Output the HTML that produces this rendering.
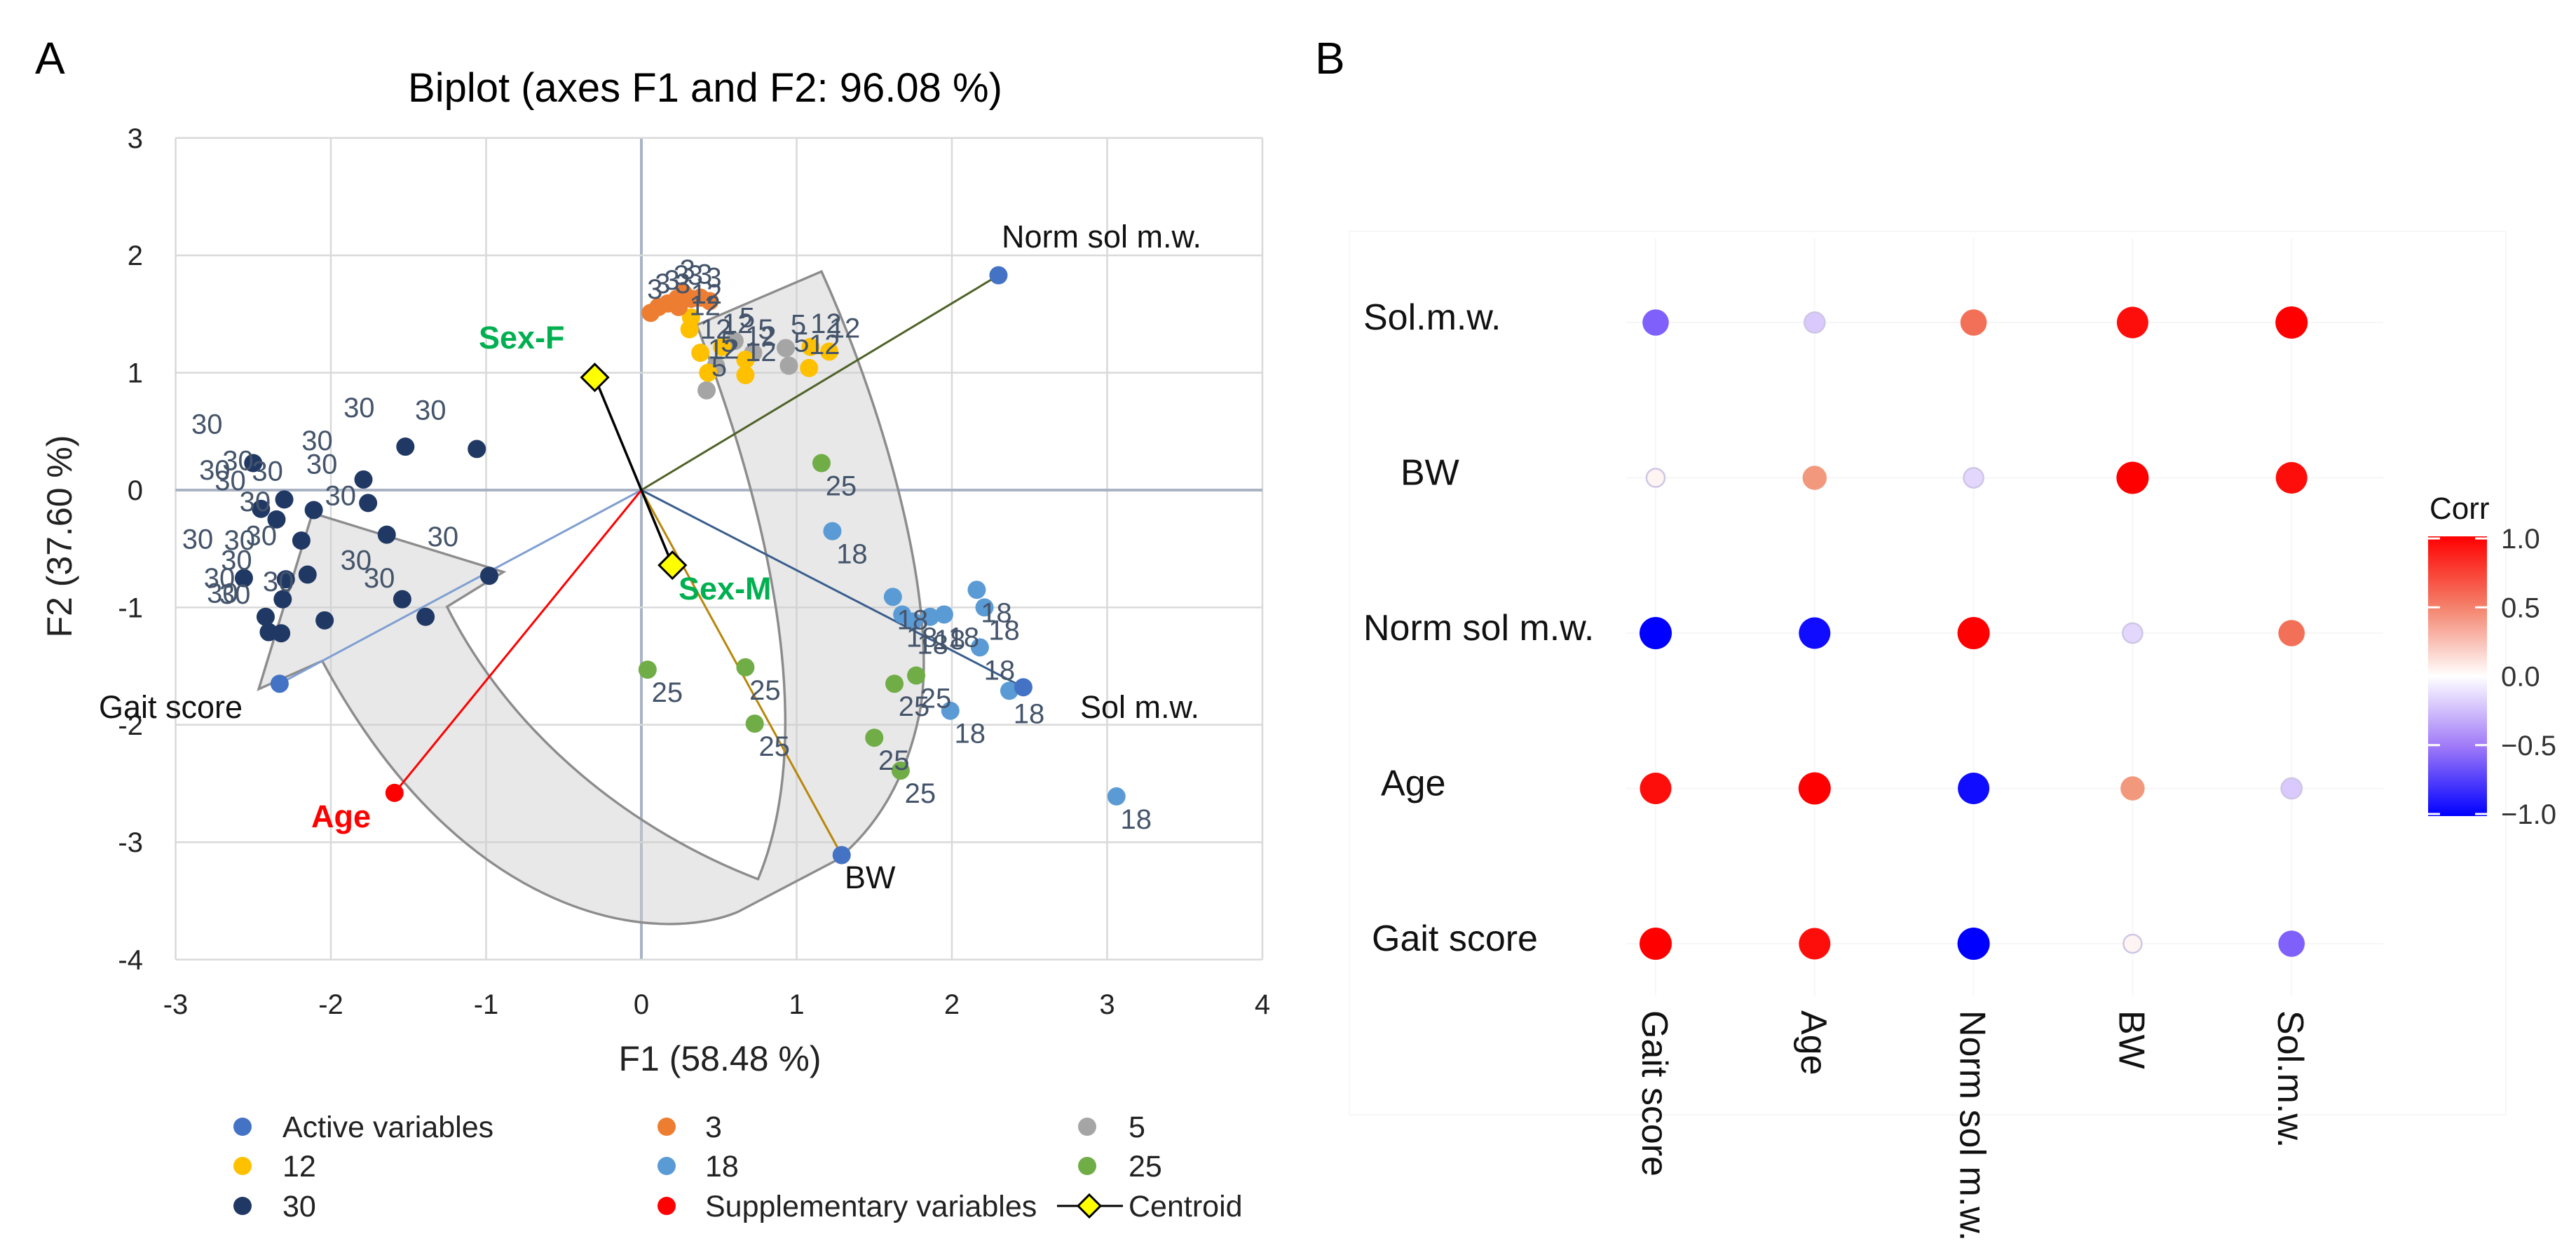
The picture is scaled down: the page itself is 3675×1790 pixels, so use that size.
<!DOCTYPE html>
<html><head><meta charset="utf-8">
<style>
html,body{margin:0;padding:0;background:#fff;}
svg{display:block;font-family:"Liberation Sans",sans-serif;}
</style></head>
<body>
<svg id="fig" width="3675" height="1790" viewBox="0 0 3675 1790" xmlns="http://www.w3.org/2000/svg">
<text x="50" y="105" font-size="64" fill="#000">A</text>
<text x="1876" y="105" font-size="64" fill="#000">B</text>
<text x="1006" y="145" font-size="58" text-anchor="middle" fill="#000">Biplot (axes F1 and F2: 96.08 %)</text>
<g id="biplot"></g>
<g id="corr"></g>
</svg>
<script>
// ---------- Biplot data ----------
const xTicks = [-3,-2,-1,0,1,2,3,4];
const yTicks = [-4,-3,-2,-1,0,1,2,3];
const g30x = [-2.50,-1.52,-1.06,-1.79,-1.76,-2.30,-2.45,-2.35,-2.11,-1.64,-2.19,-2.15,-2.56,-2.29,-2.31,-1.54,-2.04,-2.42,-2.40,-2.32,-1.39,-0.98];
const g30y = [0.23,0.37,0.35,0.09,-0.11,-0.08,-0.16,-0.25,-0.17,-0.38,-0.43,-0.72,-0.75,-0.76,-0.93,-0.93,-1.11,-1.08,-1.21,-1.22,-1.08,-0.73];
const g18x = [1.23,1.62,1.68,1.86,1.95,2.16,2.21,2.18,1.99,2.37,3.06,1.75];
const g18y = [-0.35,-0.91,-1.06,-1.08,-1.06,-0.85,-1.00,-1.34,-1.88,-1.71,-2.61,-1.12];
const g25x = [1.16,0.04,0.67,0.73,1.63,1.77,1.50,1.67];
const g25y = [0.23,-1.53,-1.51,-1.99,-1.65,-1.58,-2.11,-2.39];
const g3x = [0.06,0.11,0.17,0.23,0.27,0.32,0.38,0.44,0.24];
const g3y = [1.51,1.56,1.59,1.63,1.68,1.63,1.64,1.61,1.56];
const g12x = [0.31,0.38,0.43,0.52,0.67,0.67,1.09,1.21,1.08,0.32];
const g12y = [1.37,1.17,1.00,1.22,1.11,0.98,1.22,1.18,1.04,1.47];
const g5x = [0.42,0.48,0.72,0.93,0.95,0.60];
const g5y = [0.85,1.06,1.17,1.21,1.06,1.27];
const varNames = ["Norm sol m.w.","Sol m.w.","BW","Gait score"];
const varX = [2.30,2.46,1.29,-2.33];
const varY = [1.83,-1.68,-3.11,-1.65];
const suppX = [-1.59];
const suppY = [-2.58];
const centX = [-0.30,0.20];
const centY = [0.96,-0.64];

const X0=915, XU=221.5, Y0=699, YU=167.4;
const sx = v => X0 + v*XU;
const sy = v => Y0 - v*YU;
const NS="http://www.w3.org/2000/svg";
function mk(tag, attrs, parent){const e=document.createElementNS(NS,tag);for(const k in attrs)e.setAttribute(k,attrs[k]);parent.appendChild(e);return e;}
const B=document.getElementById('biplot');

xTicks.forEach(t=>{
  const l=mk('line',{x1:sx(t),x2:sx(t),y1:sy(3),y2:sy(-4),stroke:t===0?'#a9b3c4':'#d9d9d9','stroke-width':t===0?4:2.5},B);
  
  
  const tx=mk('text',{x:sx(t),y:1446,'font-size':40,'text-anchor':'middle',fill:'#222'},B);
  tx.textContent=String(t);
  
  
});
yTicks.forEach(t=>{
  const l=mk('line',{x1:sx(-3),x2:sx(4),y1:sy(t),y2:sy(t),stroke:t===0?'#a9b3c4':'#d9d9d9','stroke-width':t===0?4:2.5},B);
  
  
  const tx=mk('text',{x:204,y:sy(t)+14,'font-size':40,'text-anchor':'end',fill:'#222'},B);
  tx.textContent=String(t);
  
  
});
let t1=mk('text',{x:1027,y:1527,'font-size':50,'text-anchor':'middle',fill:'#222'},B);
t1.textContent='F1 (58.48 %)';


let t2=mk('text',{x:0,y:0,'font-size':50,'text-anchor':'middle',fill:'#222',transform:'translate(102,765) rotate(-90)'},B);
t2.textContent='F2 (37.60 %)';



// curved arrow shape
const ag0=mk('g',{transform:'matrix(0.9949,0,0,0.9545,0,15.9)'},B);


const arrow=mk('path',{d:'M999,469 L1178,389 C1283,631 1346,911 1318,1052 Q1290,1192 1199,1269 L1058,1346 C946,1395 666,1367 462,971 L371,1013 L448,750 L722,838 L641,890 C736,1087 911,1227 1087,1297 C1157,1122 1136,841 999,469 Z',fill:'rgba(205,205,205,0.45)',stroke:'#8c8c8c','stroke-width':3.5},ag0);



const vecColors=['#4f6228','#3a5e8c','#b8860b','#7f9fd0'];
varX.forEach((v,i)=>{
  const l=mk('line',{x1:sx(0),y1:sy(0),x2:sx(v),y2:sy(varY[i]),stroke:vecColors[i],'stroke-width':3},B);
  
  
});
suppX.forEach((v,i)=>{
  const l=mk('line',{x1:sx(0),y1:sy(0),x2:sx(v),y2:sy(suppY[i]),stroke:'#ff0000','stroke-width':3},B);
  
  
});
const cl=mk('line',{x1:sx(centX[0]),y1:sy(centY[0]),x2:sx(centX[1]),y2:sy(centY[1]),stroke:'#000','stroke-width':3.5},B);



const groups=[
 {x:g30x,y:g30y,c:'#203864',lab:'30',dx:-66,dy:-42},
 {x:g25x,y:g25y,c:'#70ad47',lab:'25',dx:28,dy:46},
 {x:g18x,y:g18y,c:'#5b9bd5',lab:'18',dx:28,dy:46},
 {x:g5x,y:g5y,c:'#a5a5a5',lab:'5',dx:18,dy:-20},
 {x:g12x,y:g12y,c:'#ffc000',lab:'12',dx:22,dy:-20},
 {x:g3x,y:g3y,c:'#ed7d31',lab:'3',dx:6,dy:-20}
];
groups.forEach(gr=>{
  gr.x.forEach((v,i)=>{
    const c=mk('circle',{cx:sx(v),cy:sy(gr.y[i]),r:13,fill:gr.c},B);
    
    
  });
});
groups.forEach(gr=>{
  gr.x.forEach((v,i)=>{
    const t=mk('text',{x:sx(v)+gr.dx,y:sy(gr.y[i])+gr.dy,'font-size':40,'text-anchor':'middle',fill:'#44546a'},B);
    t.textContent=gr.lab;
    
    
  });
});
const varLabPos=[[1429,353],[1541,1024],[1205,1267],[141,1024]];
varX.forEach((v,i)=>{
  const c=mk('circle',{cx:sx(v),cy:sy(varY[i]),r:13,fill:'#4472c4'},B);
  
  
  const t=mk('text',{x:varLabPos[i][0],y:varLabPos[i][1],'font-size':45,fill:'#111'},B);
  t.textContent=varNames[i];
  
  
});
suppX.forEach((v,i)=>{
  const c=mk('circle',{cx:sx(v),cy:sy(suppY[i]),r:13,fill:'#ff0000'},B);
  
  
});
const ag=mk('text',{x:444,y:1180,'font-size':45,'font-weight':'bold',fill:'#ff0000'},B);
ag.textContent='Age';


const centNames=['Sex-F','Sex-M'];
const centLab=[[683,497],[968,855]];
centX.forEach((v,i)=>{
  const x=sx(v),y=sy(centY[i]);
  const d=mk('path',{d:`M${x},${y-19} L${x+19},${y} L${x},${y+19} L${x-19},${y} Z`,fill:'#ffff00',stroke:'#000','stroke-width':3},B);
  
  
  const t=mk('text',{x:centLab[i][0],y:centLab[i][1],'font-size':45,'font-weight':'bold',fill:'#00b050'},B);
  t.textContent=centNames[i];
  
  
});

const legNames=['Active variables','3','5','12','18','25','30','Supplementary variables'];
const legColors=['#4472c4','#ed7d31','#a5a5a5','#ffc000','#5b9bd5','#70ad47','#203864','#ff0000'];
const legCols=[[346,403],[951,1006],[1551,1610]];
const legRows=[1607,1663,1720];
legNames.forEach((n,i)=>{
  const r=Math.floor(i/3), c=i%3;
  const cc=mk('circle',{cx:legCols[c][0],cy:legRows[r],r:13,fill:legColors[i]},B);
  
  
  const t=mk('text',{x:legCols[c][1],y:legRows[r]+15,'font-size':43,fill:'#222'},B);
  t.textContent=n;
  
  
});
const ll=mk('line',{x1:1508,x2:1602,y1:1720,y2:1720,stroke:'#000','stroke-width':3},B);


const ld=mk('path',{d:'M1554,1704 L1570,1720 L1554,1736 L1538,1720 Z',fill:'#ffff00',stroke:'#000','stroke-width':3},B);


const lt=mk('text',{x:1610,y:1735,'font-size':43,fill:'#222'},B);
lt.textContent='Centroid';


</script>
<script>
// ---------- Correlation plot data ----------
const rowLabels = ["Sol.m.w.","BW","Norm sol m.w.","Age","Gait score"];
const colLabels = ["Gait score","Age","Norm sol m.w.","BW","Sol.m.w."];
const rowSol  = [-0.6,-0.2,0.6,0.95,1.0];
const rowBW   = [0.05,0.45,-0.15,1.0,0.95];
const rowNorm = [-1.0,-0.95,1.0,-0.15,0.6];
const rowAge  = [0.95,1.0,-0.95,0.45,-0.2];
const rowGait = [1.0,0.95,-1.0,0.05,-0.6];
const corrRows=[rowSol,rowBW,rowNorm,rowAge,rowGait];
const cbTicks=[1.0,0.5,0.0,-0.5,-1.0];

(function(){
const NS="http://www.w3.org/2000/svg";
const C=document.getElementById('corr');
function mk(tag, attrs, parent){const e=document.createElementNS(NS,tag);for(const k in attrs)e.setAttribute(k,attrs[k]);parent.appendChild(e);return e;}
const cx = i => 2362 + i*226.8;
const ry = j => 460 + j*221.5;
function lerp(a,b,t){return a+(b-a)*t;}
function col(v){
  const stops=[[-1,[0,0,255]],[-0.5,[160,120,250]],[0,[255,255,255]],[0.5,[240,140,110]],[1,[255,0,0]]];
  for(let k=0;k<stops.length-1;k++){
    const [a,ca]=stops[k],[b,cb]=stops[k+1];
    if(v>=a&&v<=b){const t=(v-a)/(b-a);return `rgb(${Math.round(lerp(ca[0],cb[0],t))},${Math.round(lerp(ca[1],cb[1],t))},${Math.round(lerp(ca[2],cb[2],t))})`;}
  }
  return '#fff';
}
const bg=mk('rect',{x:1925,y:330,width:1650,height:1260,fill:'none',stroke:'#f7f7f7','stroke-width':2},C);


colLabels.forEach((n,i)=>{
  const l=mk('line',{x1:cx(i),x2:cx(i),y1:340,y2:1420,stroke:'#f6f6f6','stroke-width':2},C);
  
  
});
rowLabels.forEach((n,j)=>{
  const l=mk('line',{x1:2320,x2:3400,y1:ry(j),y2:ry(j),stroke:'#f6f6f6','stroke-width':2},C);
  
  
});
const rowX=[1945,1998,1945,1970,1957];
rowLabels.forEach((n,j)=>{
  const t=mk('text',{x:rowX[j],y:ry(j)+10,'font-size':52,fill:'#111'},C);
  t.textContent=n;
  
  
});
colLabels.forEach((n,i)=>{
  const t=mk('text',{x:0,y:0,'font-size':52,fill:'#111',transform:`translate(${cx(i)-19},1441) rotate(90)`},C);
  t.textContent=n;
  
  
});
corrRows.forEach((row,j)=>{
  row.forEach((v,i)=>{
    const r=12.5+10.5*Math.abs(v);
    const c=mk('circle',{cx:cx(i),cy:ry(j),r:r,fill:col(v),stroke:Math.abs(v)<0.3?'#cfc6e6':'none','stroke-width':2.5},C);
    
    
  });
});
const defs=mk('defs',{},C);
const lg=mk('linearGradient',{id:'cbg',x1:0,y1:0,x2:0,y2:1},defs);
[[0,'#ff0000'],[0.25,'#f4806a'],[0.5,'#ffffff'],[0.75,'#a07af8'],[1,'#0000ff']].forEach(s=>mk('stop',{offset:s[0],'stop-color':s[1]},lg));
const cbTop=768, cbBot=1161;
const cb=mk('rect',{x:3464,y:cbTop-3,width:84,height:cbBot-cbTop+6,fill:'url(#cbg)'},C);


const cbY=v=>cbTop+(1-v)/2*(cbBot-cbTop);
cbTicks.forEach(v=>{
  const a=mk('line',{x1:3464,x2:3481,y1:cbY(v),y2:cbY(v),stroke:'#fff','stroke-width':3},C);
  
  
  const b=mk('line',{x1:3531,x2:3548,y1:cbY(v),y2:cbY(v),stroke:'#fff','stroke-width':3},C);
  
  
  const t=mk('text',{x:3568,y:cbY(v)+14,'font-size':40,fill:'#333'},C);
  t.textContent=(v<0?'\u2212':'')+Math.abs(v).toFixed(1);
  
  
});
const ct=mk('text',{x:3466,y:740,'font-size':44,fill:'#111'},C);
ct.textContent='Corr';


})();
</script>
</body></html>
